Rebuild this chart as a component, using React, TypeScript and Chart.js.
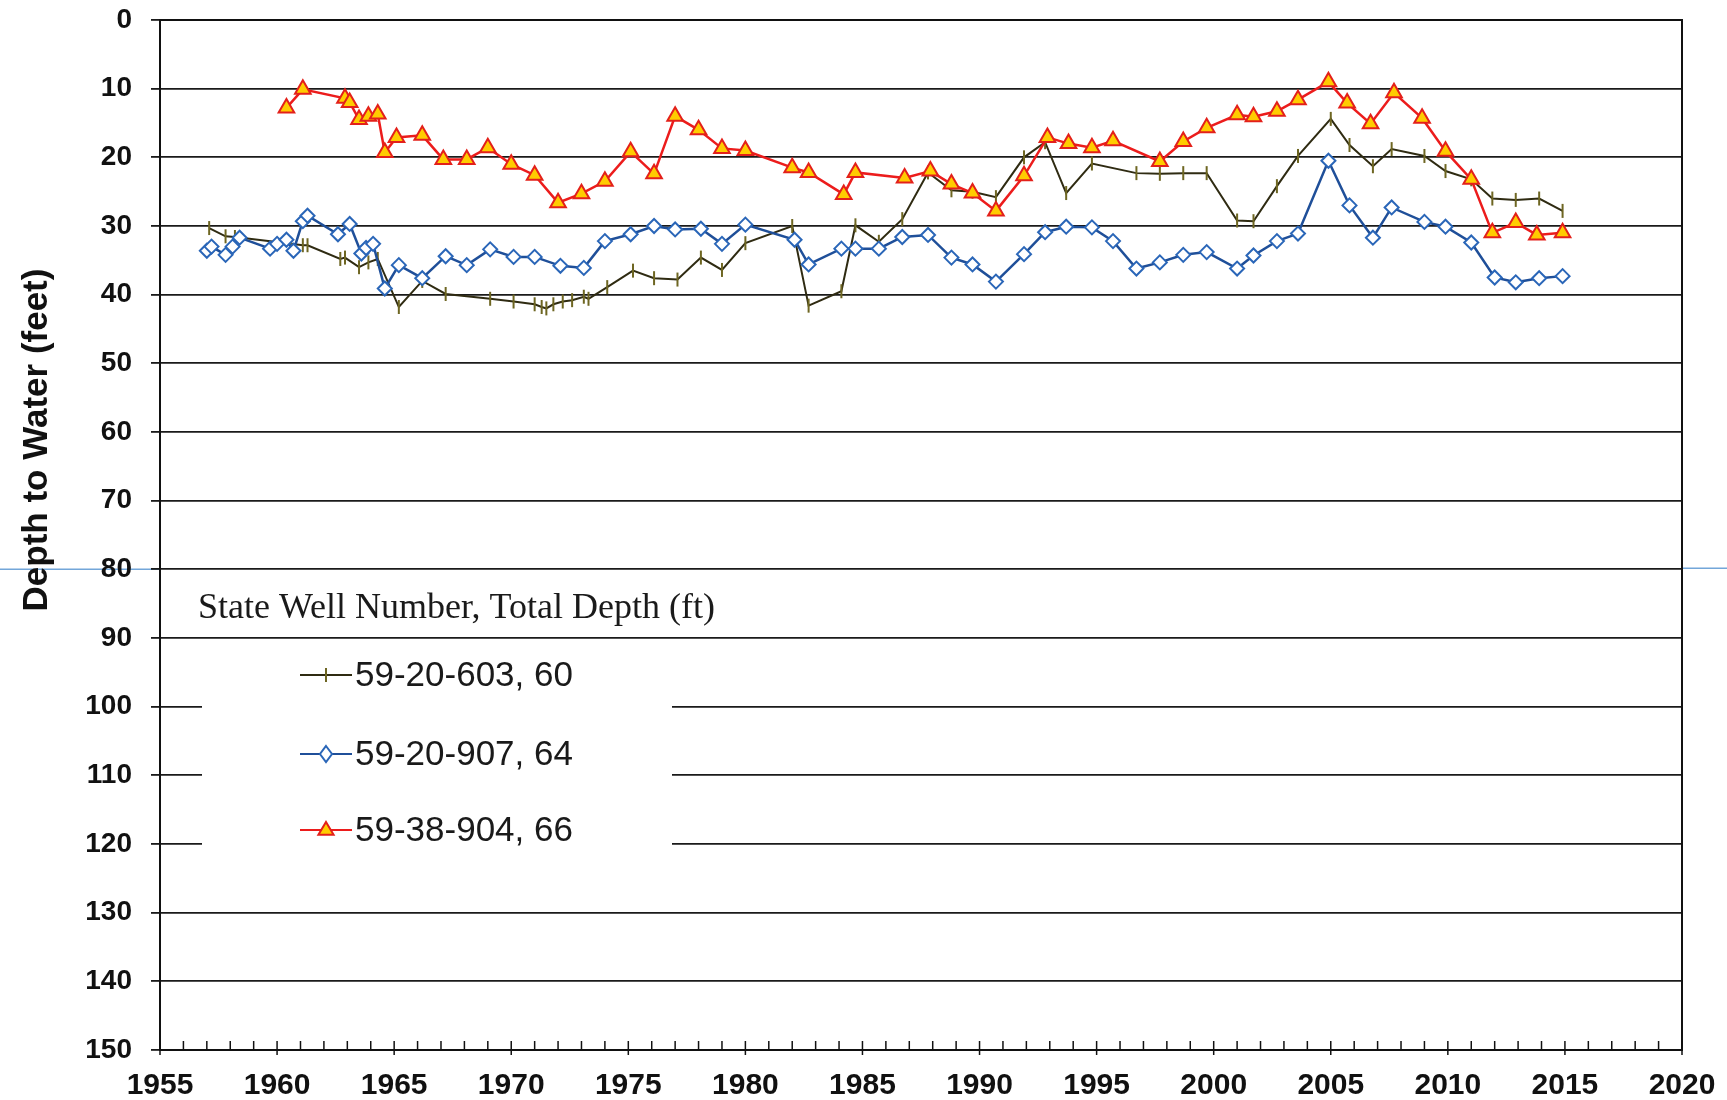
import React, { useEffect, useRef } from "react";
import { Chart, registerables } from "chart.js";
Chart.register(...registerables);

// ---- Data ----
const years603 = [1957.1, 1957.8, 1958.2, 1960.6, 1961.1, 1961.3, 1962.7, 1962.9, 1963.5, 1963.9, 1964.3, 1965.2, 1966.2, 1967.2, 1969.1, 1970.1, 1971.0, 1971.3, 1971.5, 1971.8, 1972.2, 1972.6, 1973.1, 1973.3, 1974.1, 1975.2, 1976.1, 1977.1, 1978.1, 1979.0, 1980.0, 1982.0, 1982.7, 1984.1, 1984.7, 1985.7, 1986.7, 1987.8, 1988.8, 1989.7, 1990.7, 1991.9, 1992.8, 1993.7, 1994.8, 1996.7, 1997.7, 1998.7, 1999.7, 2001.0, 2001.7, 2002.7, 2003.6, 2005.0, 2005.8, 2006.8, 2007.6, 2009.0, 2009.9, 2011.0, 2011.9, 2012.9, 2013.9, 2014.9];
const depth603 = [30.3, 31.5, 31.6, 32.6, 32.8, 32.8, 34.8, 34.6, 36.0, 35.3, 34.8, 41.8, 38.0, 39.9, 40.6, 41.0, 41.4, 41.8, 42.0, 41.4, 41.0, 40.8, 40.3, 40.6, 38.9, 36.5, 37.6, 37.8, 34.6, 36.4, 32.5, 30.0, 41.6, 39.5, 29.9, 32.3, 29.0, 22.2, 24.8, 25.0, 25.8, 20.0, 17.8, 25.2, 20.9, 22.3, 22.4, 22.3, 22.3, 29.2, 29.3, 24.2, 19.8, 14.4, 18.2, 21.3, 18.8, 19.8, 22.0, 23.2, 26.0, 26.2, 26.0, 27.8];

const years907 = [1957.0, 1957.2, 1957.8, 1958.1, 1958.4, 1959.7, 1960.0, 1960.4, 1960.7, 1961.1, 1961.3, 1962.6, 1963.1, 1963.6, 1963.8, 1964.1, 1964.6, 1965.2, 1966.2, 1967.2, 1968.1, 1969.1, 1970.1, 1971.0, 1972.1, 1973.1, 1974.0, 1975.1, 1976.1, 1977.0, 1978.1, 1979.0, 1980.0, 1982.1, 1982.7, 1984.1, 1984.7, 1985.7, 1986.7, 1987.8, 1988.8, 1989.7, 1990.7, 1991.9, 1992.8, 1993.7, 1994.8, 1995.7, 1996.7, 1997.7, 1998.7, 1999.7, 2001.0, 2001.7, 2002.7, 2003.6, 2004.9, 2005.8, 2006.8, 2007.6, 2009.0, 2009.9, 2011.0, 2012.0, 2012.9, 2013.9, 2014.9];
const depth907 = [33.6, 33.0, 34.2, 33.0, 31.7, 33.3, 32.6, 32.0, 33.6, 29.3, 28.5, 31.2, 29.7, 34.0, 33.2, 32.6, 39.1, 35.7, 37.6, 34.4, 35.7, 33.4, 34.5, 34.5, 35.8, 36.1, 32.2, 31.2, 30.0, 30.5, 30.4, 32.6, 29.8, 32.0, 35.6, 33.3, 33.3, 33.3, 31.6, 31.3, 34.6, 35.6, 38.1, 34.1, 30.9, 30.1, 30.2, 32.2, 36.2, 35.3, 34.2, 33.8, 36.2, 34.3, 32.2, 31.1, 20.5, 27.0, 31.7, 27.3, 29.4, 30.1, 32.4, 37.5, 38.2, 37.6, 37.3];

const years904 = [1960.4, 1961.1, 1962.9, 1963.1, 1963.5, 1963.9, 1964.3, 1964.6, 1965.1, 1966.2, 1967.1, 1968.1, 1969.0, 1970.0, 1971.0, 1972.0, 1973.0, 1974.0, 1975.1, 1976.1, 1977.0, 1978.0, 1979.0, 1980.0, 1982.0, 1982.7, 1984.2, 1984.7, 1986.8, 1987.9, 1988.8, 1989.7, 1990.7, 1991.9, 1992.9, 1993.8, 1994.8, 1995.7, 1997.7, 1998.7, 1999.7, 2001.0, 2001.7, 2002.7, 2003.6, 2004.9, 2005.7, 2006.7, 2007.7, 2008.9, 2009.9, 2011.0, 2011.9, 2012.9, 2013.8, 2014.9];
const depth904 = [12.8, 10.1, 11.4, 12.0, 14.5, 14.0, 13.7, 19.3, 17.1, 16.8, 20.3, 20.3, 18.6, 21.0, 22.6, 26.6, 25.3, 23.5, 19.2, 22.4, 14.0, 16.0, 18.7, 19.0, 21.5, 22.2, 25.4, 22.2, 23.0, 22.0, 23.9, 25.2, 27.8, 22.7, 17.1, 18.0, 18.6, 17.6, 20.6, 17.7, 15.7, 13.8, 14.1, 13.3, 11.6, 9.0, 12.1, 15.1, 10.6, 14.3, 19.1, 23.2, 31.0, 29.5, 31.3, 31.0];

const seriesLabels = ["59-20-603, 60", "59-20-907, 64", "59-38-904, 66"];
const legendTitle = "State Well Number, Total Depth (ft)";
const yAxisTitle = "Depth to Water (feet)";
const xMin = 1955;
const xMax = 2020;
const xStep = 5;
const yMin = 0;
const yMax = 150;
const yStep = 10;

const toPoints = (xs: number[], ys: number[]) => xs.map((x, i) => ({ x, y: ys[i] }));

function drawMarker(ctx: CanvasRenderingContext2D, style: string, cx: number, cy: number, r: number, fill: string, stroke: string, lw: number) {
  ctx.save();
  ctx.lineWidth = lw;
  ctx.strokeStyle = stroke;
  ctx.fillStyle = fill;
  ctx.beginPath();
  if (style === "triangle") {
    ctx.moveTo(cx, cy - r);
    ctx.lineTo(cx + r * 0.95, cy + r * 0.6);
    ctx.lineTo(cx - r * 0.95, cy + r * 0.6);
    ctx.closePath();
    ctx.fill();
    ctx.stroke();
  } else if (style === "rectRot") {
    ctx.moveTo(cx, cy - r);
    ctx.lineTo(cx + r * 0.75, cy);
    ctx.lineTo(cx, cy + r);
    ctx.lineTo(cx - r * 0.75, cy);
    ctx.closePath();
    ctx.fill();
    ctx.stroke();
  } else {
    ctx.moveTo(cx, cy - r);
    ctx.lineTo(cx, cy + r);
    ctx.stroke();
  }
  ctx.restore();
}

const STYLES = [
  { line: "#2f2b12", point: "#6e6622", fill: "#6e6622", style: "line" },
  { line: "#1f4f99", point: "#2a66b8", fill: "#ffffff", style: "rectRot" },
  { line: "#ec1c1c", point: "#e3201a", fill: "#ffcc00", style: "triangle" },
];

const overlayPlugin = {
  id: "overlay",
  beforeDraw(chart: any) {
    const { ctx, chartArea: ca, scales } = chart;
    const p80 = scales.y.getPixelForValue(80);
    ctx.save();
    ctx.strokeStyle = "rgba(90,150,210,0.85)";
    ctx.lineWidth = 1.5;
    ctx.beginPath();
    ctx.moveTo(0, p80);
    ctx.lineTo(ca.left, p80);
    ctx.moveTo(ca.right, p80 - 1);
    ctx.lineTo(chart.width, p80 - 1);
    ctx.stroke();
    ctx.restore();
  },
  afterDraw(chart: any) {
    const { ctx, chartArea: ca, scales } = chart;
    const xs = scales.x;
    ctx.save();
    // frame
    ctx.strokeStyle = "#111";
    ctx.lineWidth = 2;
    ctx.strokeRect(ca.left, ca.top, ca.right - ca.left, ca.bottom - ca.top);
    // x tick marks (every year, inward)
    ctx.lineWidth = 1.5;
    for (let yr = xMin; yr <= xMax; yr++) {
      const px = xs.getPixelForValue(yr);
      ctx.beginPath();
      ctx.moveTo(px, ca.bottom - 9);
      ctx.lineTo(px, ca.bottom + (yr % 5 === 0 ? 5 : 0));
      ctx.stroke();
    }

    // y axis title
    ctx.save();
    ctx.translate(47, 440);
    ctx.rotate(-Math.PI / 2);
    ctx.fillStyle = "#111";
    ctx.font = "bold 35px 'Liberation Sans', Arial, sans-serif";
    ctx.textAlign = "center";
    ctx.textBaseline = "alphabetic";
    ctx.fillText(yAxisTitle, 0, 0);
    ctx.restore();

    // legend
    ctx.fillStyle = "#ffffff";
    ctx.fillRect(202, 655, 470, 228);
    ctx.fillStyle = "#1a1a1a";
    ctx.font = "36px 'Liberation Serif', 'Times New Roman', serif";
    ctx.textAlign = "left";
    ctx.textBaseline = "middle";
    ctx.fillText(legendTitle, 198, 609);
    const rows = [675, 754, 830];
    ctx.font = "35px 'Liberation Sans', Arial, sans-serif";
    chart.data.datasets.forEach((ds: any, i: number) => {
      const st = STYLES[i];
      const yy = rows[i];
      ctx.strokeStyle = st.line;
      ctx.lineWidth = 2;
      ctx.beginPath();
      ctx.moveTo(300, yy);
      ctx.lineTo(352, yy);
      ctx.stroke();
      drawMarker(ctx, st.style, 326, yy, st.style === "line" ? 7 : 8, st.fill, st.point, 2);
      ctx.fillStyle = "#1a1a1a";
      ctx.fillText(ds.label, 355, yy + 1);
    });
    ctx.restore();
  },
};

export default function App() {
  const ref = useRef<HTMLCanvasElement | null>(null);
  useEffect(() => {
    document.body.style.margin = "0";
    const canvas = ref.current;
    if (!canvas) return;
    const chart = new Chart(canvas, {
      type: "line",
      data: {
        datasets: [
          {
            label: seriesLabels[0],
            data: toPoints(years603, depth603),
            borderColor: STYLES[0].line,
            borderWidth: 2,
            pointStyle: "line",
            rotation: 90,
            pointRadius: 7,
            pointBorderColor: STYLES[0].point,
            pointBackgroundColor: STYLES[0].point,
            pointBorderWidth: 2,
            tension: 0,
            order: 2,
          },
          {
            label: seriesLabels[1],
            data: toPoints(years907, depth907),
            borderColor: STYLES[1].line,
            borderWidth: 2.5,
            pointStyle: "rectRot",
            pointRadius: 7,
            pointBorderColor: STYLES[1].point,
            pointBackgroundColor: STYLES[1].fill,
            pointBorderWidth: 2,
            tension: 0,
            order: 1,
          },
          {
            label: seriesLabels[2],
            data: toPoints(years904, depth904),
            borderColor: STYLES[2].line,
            borderWidth: 2.5,
            pointStyle: "triangle",
            pointRadius: 9,
            pointBorderColor: STYLES[2].point,
            pointBackgroundColor: STYLES[2].fill,
            pointBorderWidth: 2,
            tension: 0,
            order: 0,
          },
        ],
      },
      options: {
        animation: false,
        responsive: false,
        maintainAspectRatio: false,
        layout: { padding: { top: 20, right: 45, left: 0, bottom: 0 } },
        plugins: { legend: { display: false }, tooltip: { enabled: false } },
        scales: {
          x: {
            type: "linear",
            min: xMin,
            max: xMax,
            ticks: {
              stepSize: xStep,
              autoSkip: false,
              maxRotation: 0,
              padding: 18,
              color: "#111",
              font: { family: "'Liberation Sans', Arial, sans-serif", size: 30, weight: "bold" },
              callback: (v: any) => String(v),
            },
            grid: { display: false, drawTicks: false },
            border: { display: true, color: "#111", width: 2 },
            afterFit: (s: any) => { s.height = 50; s.paddingLeft = 0; s.paddingRight = 0; },
          },
          y: {
            type: "linear",
            reverse: true,
            min: yMin,
            max: yMax,
            ticks: {
              stepSize: yStep,
              padding: 19,
              color: "#111",
              font: { family: "'Liberation Sans', Arial, sans-serif", size: 28, weight: "bold" },
            },
            grid: { color: "#1a1a1a", lineWidth: 1.8, tickLength: 9 },
            border: { display: true, color: "#111", width: 2 },
            afterFit: (s: any) => { s.width = 160; s.paddingTop = 0; s.paddingBottom = 0; },
          },
        },
      },
      plugins: [overlayPlugin],
    } as any);
    return () => chart.destroy();
  }, []);
  return (
    <div style={{ width: 1727, height: 1100, background: "#fff" }}>
      <canvas ref={ref} width={1727} height={1100} style={{ display: "block" }} />
    </div>
  );
}
